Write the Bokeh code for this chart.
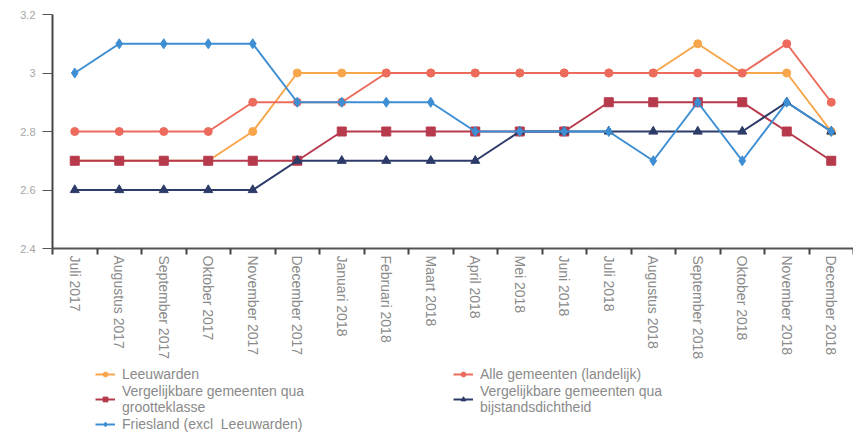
import math
from bokeh.plotting import figure
from bokeh.layouts import column
from bokeh.models import FixedTicker, Legend, LegendItem, Range1d
from bokeh.embed import file_html
from bokeh.resources import INLINE

months = ["Juli 2017", "Augustus 2017", "September 2017", "Oktober 2017",
          "November 2017", "December 2017", "Januari 2018", "Februari 2018",
          "Maart 2018", "April 2018", "Mei 2018", "Juni 2018", "Juli 2018",
          "Augustus 2018", "September 2018", "Oktober 2018", "November 2018",
          "December 2018"]

leeuwarden = [2.7, 2.7, 2.7, 2.7, 2.8, 3.0, 3.0, 3.0, 3.0, 3.0, 3.0, 3.0, 3.0, 3.0, 3.1, 3.0, 3.0, 2.8]
alle_gemeenten = [2.8, 2.8, 2.8, 2.8, 2.9, 2.9, 2.9, 3.0, 3.0, 3.0, 3.0, 3.0, 3.0, 3.0, 3.0, 3.0, 3.1, 2.9]
grootteklasse = [2.7, 2.7, 2.7, 2.7, 2.7, 2.7, 2.8, 2.8, 2.8, 2.8, 2.8, 2.8, 2.9, 2.9, 2.9, 2.9, 2.8, 2.7]
bijstandsdichtheid = [2.6, 2.6, 2.6, 2.6, 2.6, 2.7, 2.7, 2.7, 2.7, 2.7, 2.8, 2.8, 2.8, 2.8, 2.8, 2.8, 2.9, 2.8]
friesland = [3.0, 3.1, 3.1, 3.1, 3.1, 2.9, 2.9, 2.9, 2.9, 2.8, 2.8, 2.8, 2.8, 2.7, 2.9, 2.7, 2.9, 2.8]

y_ticks = [2.4, 2.6, 2.8, 3.0, 3.2]
y_labels = ["2.4", "2.6", "2.8", "3", "3.2"]

series = [
    ("Leeuwarden", leeuwarden, "#F8A64B", "circle", 8),
    ("Alle gemeenten (landelijk)", alle_gemeenten, "#EC6B5D", "circle", 8),
    ("Vergelijkbare gemeenten qua\ngrootteklasse", grootteklasse, "#B73A4C", "square", 9),
    ("Vergelijkbare gemeenten qua\nbijstandsdichtheid", bijstandsdichtheid, "#2C3B68", "triangle", 9),
    ("Friesland (excl  Leeuwarden)", friesland, "#3D8ED2", "diamond", 10),
]

x = list(range(len(months)))

# ---- main chart ----
p = figure(frame_width=801, frame_height=234, output_backend="svg", toolbar_location=None,
           x_range=Range1d(-0.5, len(months) - 0.5), y_range=Range1d(2.4, 3.2),
           min_border_left=52, min_border_right=0, min_border_top=14, min_border_bottom=106)
p.outline_line_color = None
p.xgrid.grid_line_color = None
p.ygrid.grid_line_color = None

for name, vals, color, marker, size in series:
    p.line(x, vals, line_color=color, line_width=2)
    p.scatter(x, vals, marker=marker, size=size, fill_color=color, line_color=color)

xa = p.xaxis[0]
xa.ticker = FixedTicker(ticks=x, minor_ticks=[i - 0.5 for i in range(len(months) + 1)])
xa.major_label_overrides = {i: m for i, m in enumerate(months)}
xa.major_label_orientation = -math.pi / 2
xa.major_tick_out = 0
xa.major_tick_in = 0
xa.minor_tick_out = 6
xa.minor_tick_in = 0
xa.minor_tick_line_color = "#444444"
xa.minor_tick_line_width = 2
xa.axis_line_color = "#555555"
xa.axis_line_width = 2
xa.major_label_text_font = "Liberation Sans"
xa.major_label_text_font_size = "14px"
xa.major_label_text_color = "#8a8a8a"
xa.major_label_standoff = 1

ya = p.yaxis[0]
ya.ticker = FixedTicker(ticks=y_ticks)
ya.major_label_overrides = {t: l for t, l in zip(y_ticks, y_labels)}
ya.major_tick_out = 10
ya.major_tick_in = 0
ya.minor_tick_out = 0
ya.minor_tick_in = 0
ya.axis_line_color = "#444444"
ya.axis_line_width = 2
ya.major_tick_line_color = "#555555"
ya.major_label_text_font = "Liberation Sans"
ya.major_label_text_font_size = "11px"
ya.major_label_text_color = "#a5a5a5"
ya.major_label_standoff = 7

# ---- legend strip (renderers hidden; only used for the legend keys) ----
lg = figure(frame_width=801, frame_height=80, output_backend="svg", toolbar_location=None,
            x_range=Range1d(-0.5, len(months) - 0.5), y_range=Range1d(2.4, 3.2),
            x_axis_location=None, y_axis_location=None,
            min_border_left=52, min_border_right=0, min_border_top=0, min_border_bottom=0)
lg.outline_line_color = None
lg.xgrid.grid_line_color = None
lg.ygrid.grid_line_color = None

items = []
for name, vals, color, marker, size in series:
    r1 = lg.line(x, vals, line_color=color, line_width=2, visible=False)
    r2 = lg.scatter(x, vals, marker=marker, size=size, fill_color=color,
                    line_color=color, visible=False)
    items.append(LegendItem(label=name, renderers=[r1, r2]))

legend = Legend(items=items, orientation="horizontal", ncols=2, location=(43, 10),
                label_text_font="Liberation Sans", label_text_font_size="14px",
                label_text_color="#8a8a8a", glyph_width=20, glyph_height=12,
                label_standoff=7, label_width=330, spacing=1, padding=2, margin=0,
                border_line_color=None, background_fill_alpha=0,
                inactive_fill_alpha=0)
lg.add_layout(legend)

layout = column(p, lg, spacing=0)
open("out.html", "w").write(file_html(layout, INLINE))
